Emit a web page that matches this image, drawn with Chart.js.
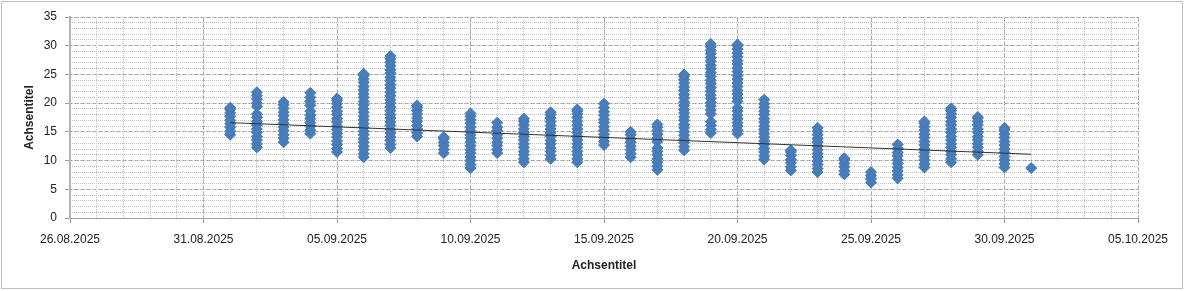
<!DOCTYPE html>
<html lang="de">
<head>
<meta charset="UTF-8">
<title>Messwerte September 2025</title>
<script src="https://cdn.jsdelivr.net/npm/chart.js"></script>
<style>
  body { margin: 0; background: #fff; }
  canvas { display: block; }
</style>
</head>
<body>
<canvas id="chart" width="1184" height="291"></canvas>
<script>
// one entry per day, readings of that day
const days = [
  '2025-09-01', '2025-09-02', '2025-09-03', '2025-09-04', '2025-09-05', '2025-09-06',
  '2025-09-07', '2025-09-08', '2025-09-09', '2025-09-10', '2025-09-11', '2025-09-12',
  '2025-09-13', '2025-09-14', '2025-09-15', '2025-09-16', '2025-09-17', '2025-09-18',
  '2025-09-19', '2025-09-20', '2025-09-21', '2025-09-22', '2025-09-23', '2025-09-24',
  '2025-09-25', '2025-09-26', '2025-09-27', '2025-09-28', '2025-09-29', '2025-09-30',
  '2025-10-01'
];
const readings = [
  [14.5, 15.1, 15.8, 16.4, 17.0, 17.7, 18.3, 18.9, 19.2],
  [12.3, 12.9, 13.6, 14.2, 14.9, 15.5, 16.2, 16.8, 17.5, 18.1, 19.4, 20.0, 20.7, 21.3, 21.9],
  [13.2, 13.9, 14.5, 15.2, 15.8, 16.5, 17.1, 17.8, 18.4, 19.1, 19.7, 20.2],
  [14.7, 15.3, 16.0, 16.6, 17.3, 17.9, 18.6, 19.6, 20.3, 21.0, 21.8],
  [11.5, 12.1, 12.8, 13.4, 14.1, 14.7, 15.4, 16.0, 16.7, 17.3, 18.0, 18.6, 19.3, 19.9, 20.5, 20.8],
  [10.6, 11.2, 11.9, 12.5, 13.2, 13.8, 14.5, 15.1, 15.8, 16.4, 17.1, 17.7, 18.4, 19.0, 19.7, 20.3,
   21.0, 21.6, 22.3, 22.9, 23.6, 24.2, 24.8, 25.1],
  [12.2, 12.8, 13.5, 14.1, 14.8, 15.4, 16.1, 16.7, 17.4, 18.0, 18.7, 19.3, 20.0, 20.6, 21.3, 21.9,
   22.6, 23.2, 23.9, 24.5, 25.2, 25.8, 26.5, 27.1, 27.7, 28.2],
  [14.2, 14.8, 15.5, 16.1, 16.8, 17.4, 18.1, 18.7, 19.3, 19.6],
  [11.3, 11.9, 12.6, 13.2, 13.8, 14.1],
  [8.7, 9.3, 10.0, 10.6, 11.3, 11.9, 12.6, 13.2, 13.9, 14.5, 15.2, 15.8, 16.5, 17.1, 17.7, 18.2],
  [11.3, 11.9, 12.6, 13.2, 13.9, 14.5, 15.2, 15.8, 16.6],
  [9.7, 10.3, 11.0, 11.6, 12.3, 12.9, 13.6, 14.2, 14.9, 15.5, 16.2, 16.8, 17.3],
  [10.3, 10.9, 11.6, 12.2, 12.9, 13.5, 14.2, 14.8, 15.5, 16.1, 16.8, 17.4, 18.0, 18.4],
  [9.7, 10.3, 11.0, 11.6, 12.3, 12.9, 13.6, 14.2, 14.9, 15.5, 16.2, 16.8, 17.5, 18.1, 18.6, 18.9],
  [12.7, 13.3, 14.0, 14.6, 15.3, 15.9, 16.6, 17.2, 17.9, 18.5, 19.2, 19.9],
  [10.6, 11.2, 11.9, 12.5, 13.2, 13.8, 14.5, 15.0],
  [8.4, 9.0, 9.7, 10.3, 11.0, 11.6, 12.2, 13.3, 13.9, 14.6, 15.2, 15.8, 16.3],
  [11.8, 12.4, 13.1, 13.7, 14.4, 15.0, 15.7, 16.3, 17.0, 17.6, 18.3, 18.9, 19.6, 20.2, 20.9, 21.5,
   22.2, 22.8, 23.5, 24.1, 24.7, 25.0],
  [14.8, 15.4, 16.1, 16.8, 18.1, 18.8, 19.5, 20.1, 20.8, 21.4, 22.1, 22.7, 23.4, 24.0, 24.7, 25.3,
   26.0, 26.6, 27.3, 27.9, 28.6, 29.2, 29.8, 30.3],
  [14.7, 15.3, 16.0, 16.6, 17.3, 17.9, 18.6, 19.2, 20.3, 20.9, 21.6, 22.2, 22.9, 23.5, 24.2, 24.8,
   25.5, 26.1, 26.8, 27.4, 28.1, 28.7, 29.4, 30.0, 30.2],
  [10.2, 10.8, 11.5, 12.1, 12.8, 13.4, 14.1, 14.7, 15.4, 16.0, 16.7, 17.3, 18.0, 18.6, 19.3, 19.9, 20.6],
  [8.3, 8.9, 9.6, 10.2, 10.9, 11.5, 11.8],
  [8.0, 8.6, 9.3, 9.9, 10.6, 11.2, 11.9, 12.5, 13.2, 13.8, 14.5, 15.1, 15.7],
  [7.6, 8.2, 8.9, 9.5, 10.1, 10.4],
  [6.2, 6.8, 7.4, 8.0],
  [6.9, 7.5, 8.2, 8.8, 9.5, 10.1, 10.8, 11.4, 12.1, 12.8],
  [8.8, 9.4, 10.1, 10.7, 11.4, 12.0, 12.7, 13.3, 14.0, 14.6, 15.3, 15.9, 16.5, 16.8],
  [9.7, 10.3, 11.0, 11.6, 12.3, 12.9, 13.6, 14.2, 14.9, 15.5, 16.2, 16.8, 17.5, 18.1, 18.7, 19.1],
  [11.0, 11.6, 12.3, 12.9, 13.6, 14.2, 14.9, 15.5, 16.2, 16.8, 17.4, 17.6],
  [8.8, 9.4, 10.1, 10.7, 11.4, 12.0, 12.7, 13.3, 14.0, 14.6, 15.3, 15.7],
  [8.7]
];

// linear trend line
const trendDays = ['2025-09-01', '2025-10-01'];
const trendValues = [16.6, 11.1];

// axis range
const xRange = ['2025-08-26', '2025-10-05'];
const yRange = [0, 35];
const xTitle = 'Achsentitel';
const yTitle = 'Achsentitel';

const DAY = 86400000;
const toMs = d => Date.parse(d);
const pad = n => String(n).padStart(2, '0');
const fmtDate = ms => {
  const d = new Date(ms);
  return pad(d.getUTCDate()) + '.' + pad(d.getUTCMonth() + 1) + '.' + d.getUTCFullYear();
};

const points = readings.flatMap((vals, i) => vals.map(v => ({ x: toMs(days[i]), y: v })));
const trend = trendDays.map((d, i) => ({ x: toMs(d), y: trendValues[i] }));

Chart.defaults.font.family = "'Liberation Sans', Arial, sans-serif";
Chart.defaults.font.size = 12;
Chart.defaults.color = '#222';

const chartFrame = {
  id: 'chartFrame',
  beforeDraw(chart) {
    const ctx = chart.ctx;
    ctx.save();
    ctx.fillStyle = '#fff';
    ctx.fillRect(0, 0, chart.width, chart.height);
    ctx.strokeStyle = '#7f7f7f';
    ctx.lineWidth = 1;
    ctx.setLineDash([1, 1]);
    ctx.strokeRect(1.5, 1.5, 1181, 287);
    ctx.restore();
  }
};

const minorX = {
  type: 'linear', position: 'bottom', z: -1,
  min: toMs(xRange[0]), max: toMs(xRange[1]),
  ticks: { display: false, stepSize: DAY },
  grid: { color: '#c2c2c2', drawTicks: false },
  border: { display: false, dash: [1, 1] },
  afterFit: s => { s.height = 0; }
};
const minorY = {
  type: 'linear', position: 'left', z: -1,
  min: yRange[0], max: yRange[1],
  ticks: { display: false, stepSize: 1 },
  grid: { color: '#c2c2c2', drawTicks: false },
  border: { display: false, dash: [1, 1] },
  afterFit: s => { s.width = 0; }
};

new Chart(document.getElementById('chart'), {
  type: 'scatter',
  data: {
    datasets: [
      {
        label: 'Trend',
        data: trend,
        showLine: true,
        borderColor: '#333',
        borderWidth: 1,
        pointRadius: 0,
        order: 0
      },
      {
        label: 'Werte',
        data: points,
        pointStyle: 'rectRot',
        pointRadius: 5.5,
        backgroundColor: '#4a7ebb',
        borderColor: '#4377b6',
        borderWidth: 1,
        order: 1
      }
    ]
  },
  options: {
    responsive: false,
    animation: false,
    devicePixelRatio: 1,
    layout: { padding: { top: 17, right: 46, left: 0, bottom: 0 } },
    plugins: { legend: { display: false }, tooltip: { enabled: false } },
    scales: {
      x: {
        type: 'linear', position: 'bottom',
        min: toMs(xRange[0]), max: toMs(xRange[1]),
        ticks: { stepSize: 5 * DAY, padding: 9, maxRotation: 0, callback: v => fmtDate(v) },
        grid: { color: '#9c9c9c', tickLength: 5, tickColor: '#9c9c9c' },
        border: { color: '#a0a0a0', dash: [2, 1] },
        title: { display: true, text: xTitle, font: { weight: 'bold', size: 12 }, padding: { bottom: 18 } },
        afterFit: s => { s.height = 73; }
      },
      y: {
        type: 'linear', position: 'left',
        min: yRange[0], max: yRange[1],
        ticks: { stepSize: 5, padding: 8 },
        grid: { color: '#9c9c9c', tickLength: 5, tickColor: '#9c9c9c' },
        border: { color: '#b4b4b4', width: 2, dash: [2, 1] },
        title: { display: true, text: yTitle, font: { weight: 'bold', size: 12 }, padding: { top: 22 } },
        afterFit: s => { s.width = 70; }
      },
      x2: minorX,
      y2: minorY
    }
  },
  plugins: [chartFrame]
});
</script>
</body>
</html>
